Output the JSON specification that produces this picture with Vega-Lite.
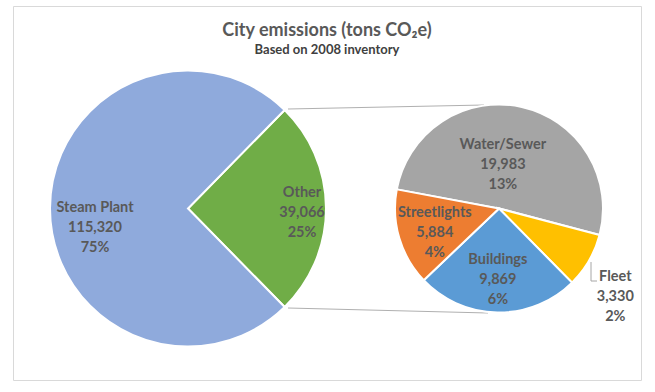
{
  "$schema": "https://vega.github.io/schema/vega-lite/v6.json",
  "width": 628,
  "height": 374,
  "autosize": {"type": "none"},
  "padding": {"left": 13, "top": 6, "right": 14, "bottom": 12},
  "background": "white",
  "config": {"view": {"stroke": "#D9D9D9", "strokeWidth": 1}, "font": "Lato"},
  "title": {
    "text": "City emissions (tons CO₂e)",
    "subtitle": "Based on 2008 inventory",
    "anchor": "middle",
    "frame": "group",
    "offset": -51,
    "font": "Lato",
    "fontSize": 18,
    "fontWeight": "bold",
    "color": "#595959",
    "subtitleFont": "Lato",
    "subtitleFontSize": 13,
    "subtitleFontWeight": "bold",
    "subtitleColor": "#404040",
    "subtitlePadding": 4
  },
  "datasets": {
    "main": [
      {"category": "Other", "value": 39066, "pct": "25%"},
      {"category": "Steam Plant", "value": 115320, "pct": "75%"}
    ],
    "sub": [
      {"category": "Water/Sewer", "value": 19983, "pct": "13%"},
      {"category": "Fleet", "value": 3330, "pct": "2%"},
      {"category": "Buildings", "value": 9869, "pct": "6%"},
      {"category": "Streetlights", "value": 5884, "pct": "4%"}
    ]
  },
  "resolve": {"scale": {"theta": "independent"}},
  "layer": [
    {
      "data": {"values": [{}]},
      "mark": {"type": "rule", "stroke": "#B0B0B0", "strokeWidth": 1},
      "encoding": {
        "x": {"datum": 288, "type": "quantitative", "scale": {"domain": [13, 641]}, "axis": null},
        "y": {"datum": 109, "type": "quantitative", "scale": {"domain": [380, 6]}, "axis": null},
        "x2": {"datum": 484},
        "y2": {"datum": 105}
      }
    },
    {
      "data": {"values": [{}]},
      "mark": {"type": "rule", "stroke": "#B0B0B0", "strokeWidth": 1},
      "encoding": {
        "x": {"datum": 288, "type": "quantitative", "scale": {"domain": [13, 641]}, "axis": null},
        "y": {"datum": 308, "type": "quantitative", "scale": {"domain": [380, 6]}, "axis": null},
        "x2": {"datum": 488},
        "y2": {"datum": 313}
      }
    },
    {
      "data": {"name": "main"},
      "transform": [
        {"window": [{"op": "row_number", "as": "seq"}]},
        {"calculate": "datum.category + '\\n' + format(datum.value, ',') + '\\n' + datum.pct", "as": "label"}
      ],
      "encoding": {
        "theta": {"field": "value", "type": "quantitative", "stack": true, "scale": {"range": [0.7758, 7.0590], "nice": false, "zero": true}},
        "order": {"field": "seq", "type": "quantitative"},
        "x": {"datum": 188, "type": "quantitative", "scale": {"domain": [13, 641]}, "axis": null},
        "y": {"datum": 208.5, "type": "quantitative", "scale": {"domain": [380, 6]}, "axis": null}
      },
      "layer": [
        {
          "mark": {"type": "arc", "outerRadius": 138, "stroke": "white", "strokeWidth": 2},
          "encoding": {
            "color": {"field": "category", "type": "nominal", "legend": null,
              "scale": {"domain": ["Steam Plant", "Other", "Water/Sewer", "Fleet", "Buildings", "Streetlights"],
                        "range": ["#8FAADC", "#70AD47", "#A5A5A5", "#FFC000", "#5B9BD5", "#ED7D31"]}}
          }
        },
        {
          "mark": {"type": "text", "radius": 93, "dy": -0.5, "lineBreak": "\n", "lineHeight": 20, "font": "Lato", "fontSize": 14.5, "fontWeight": "bold", "fill": "#595959", "align": "center", "baseline": "middle"},
          "encoding": {"text": {"condition": {"test": "datum.category === 'Steam Plant'", "field": "label"}, "value": ""}}
        },
        {
          "mark": {"type": "text", "radius": 114, "dy": -15.5, "lineBreak": "\n", "lineHeight": 20, "font": "Lato", "fontSize": 14.5, "fontWeight": "bold", "fill": "#595959", "align": "center", "baseline": "middle"},
          "encoding": {"text": {"condition": {"test": "datum.category === 'Other'", "field": "label"}, "value": ""}}
        }
      ]
    },
    {
      "data": {"name": "sub"},
      "transform": [
        {"window": [{"op": "row_number", "as": "seq"}]},
        {"calculate": "datum.category + '\\n' + format(datum.value, ',') + '\\n' + datum.pct", "as": "label"}
      ],
      "encoding": {
        "theta": {"field": "value", "type": "quantitative", "stack": true, "scale": {"range": [-1.3858, 4.8974], "nice": false, "zero": true}},
        "order": {"field": "seq", "type": "quantitative"},
        "x": {"datum": 499, "type": "quantitative", "scale": {"domain": [13, 641]}, "axis": null},
        "y": {"datum": 208.5, "type": "quantitative", "scale": {"domain": [380, 6]}, "axis": null}
      },
      "layer": [
        {
          "mark": {"type": "arc", "outerRadius": 104, "stroke": "white", "strokeWidth": 2},
          "encoding": {
            "color": {"field": "category", "type": "nominal", "legend": null,
              "scale": {"domain": ["Steam Plant", "Other", "Water/Sewer", "Fleet", "Buildings", "Streetlights"],
                        "range": ["#8FAADC", "#70AD47", "#A5A5A5", "#FFC000", "#5B9BD5", "#ED7D31"]}}
          }
        },
        {
          "mark": {"type": "text", "radius": 45, "dx": -6, "dy": -20, "lineBreak": "\n", "lineHeight": 20, "font": "Lato", "fontSize": 14.5, "fontWeight": "bold", "fill": "#595959", "align": "center", "baseline": "middle"},
          "encoding": {"text": {"condition": {"test": "datum.category === 'Water/Sewer'", "field": "label"}, "value": ""}}
        },
        {
          "mark": {"type": "text", "radius": 146, "dx": -10, "dy": -5, "lineBreak": "\n", "lineHeight": 20, "font": "Lato", "fontSize": 14.5, "fontWeight": "bold", "fill": "#595959", "align": "center", "baseline": "middle"},
          "encoding": {"text": {"condition": {"test": "datum.category === 'Fleet'", "field": "label"}, "value": ""}}
        },
        {
          "mark": {"type": "text", "radius": 71.5, "dy": -20, "lineBreak": "\n", "lineHeight": 20, "font": "Lato", "fontSize": 14.5, "fontWeight": "bold", "fill": "#595959", "align": "center", "baseline": "middle"},
          "encoding": {"text": {"condition": {"test": "datum.category === 'Buildings'", "field": "label"}, "value": ""}}
        },
        {
          "mark": {"type": "text", "radius": 68, "dx": 1, "dy": -15, "lineBreak": "\n", "lineHeight": 20, "font": "Lato", "fontSize": 14.5, "fontWeight": "bold", "fill": "#595959", "align": "center", "baseline": "middle"},
          "encoding": {"text": {"condition": {"test": "datum.category === 'Streetlights'", "field": "label"}, "value": ""}}
        }
      ]
    },
    {
      "data": {"values": [{}]},
      "mark": {"type": "rule", "stroke": "#A6A6A6", "strokeWidth": 1},
      "encoding": {
        "x": {"datum": 591, "type": "quantitative", "scale": {"domain": [13, 641]}, "axis": null},
        "y": {"datum": 262, "type": "quantitative", "scale": {"domain": [380, 6]}, "axis": null},
        "y2": {"datum": 281}
      }
    },
    {
      "data": {"values": [{}]},
      "mark": {"type": "rule", "stroke": "#A6A6A6", "strokeWidth": 1},
      "encoding": {
        "x": {"datum": 591, "type": "quantitative", "scale": {"domain": [13, 641]}, "axis": null},
        "x2": {"datum": 597},
        "y": {"datum": 281, "type": "quantitative", "scale": {"domain": [380, 6]}, "axis": null}
      }
    }
  ]
}
